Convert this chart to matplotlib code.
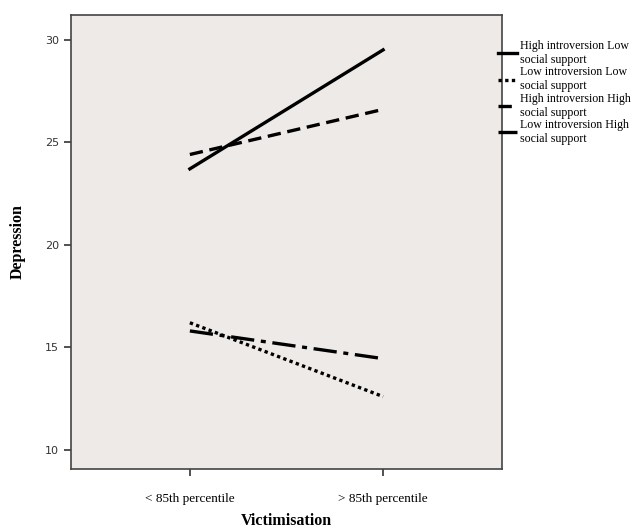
import matplotlib
matplotlib.use("Agg")
import matplotlib.pyplot as plt

categories = ["< 85th percentile", "> 85th percentile"]
series_names = ["High introversion Low\nsocial support",
                "Low introversion Low\nsocial support",
                "High introversion High\nsocial support",
                "Low introversion High\nsocial support"]
hi_intro_low_support = [23.7, 29.5]
lo_intro_low_support = [16.2, 12.6]
hi_intro_high_support = [24.4, 26.6]
lo_intro_high_support = [15.8, 14.45]
yticks = [10, 15, 20, 25, 30]

fig = plt.figure(figsize=(6.37, 5.32), dpi=100)
ax = fig.add_axes([0.1115, 0.1184, 0.6765, 0.8534])
ax.set_facecolor("#EEEAE7")

x = list(range(len(categories)))
styles = ["-", (0, (1, 1)), (0, (4, 2)), (0, (7, 2, 1.5, 2))]
data = [hi_intro_low_support, lo_intro_low_support, hi_intro_high_support, lo_intro_high_support]
for vals, ls, name in zip(data, styles, series_names):
    ax.plot(x, vals, color="black", linestyle=ls, linewidth=2.4, label=name)

ax.set_xlim(-0.615, 1.615)
ax.set_ylim(9.07, 31.2)
ax.set_xticks(x)
ax.set_xticklabels(categories, fontfamily="Liberation Serif", fontsize=9.5)
ax.set_yticks(yticks)
ax.set_yticklabels([str(v) for v in yticks], fontfamily="DejaVu Sans", fontsize=8, color="#333333")
ax.tick_params(axis="both", direction="out", length=5, width=1.2, color="#333333")
ax.tick_params(axis="x", pad=12)
for s in ax.spines.values():
    s.set_color("#444444")
    s.set_linewidth(1.2)

ax.set_xlabel("Victimisation", fontfamily="Liberation Serif", fontsize=11.5, fontweight="bold", labelpad=6)
ax.set_ylabel("Depression", fontfamily="Liberation Serif", fontsize=11.5, fontweight="bold")
ax.yaxis.set_label_coords(-0.105, 0.5)

leg = ax.legend(loc="upper left", bbox_to_anchor=(0.99, 0.945), frameon=False,
                prop={"family": "Liberation Serif", "size": 8.6},
                handlelength=1.6, handletextpad=0.25, labelspacing=0.05,
                borderaxespad=0, borderpad=0)

fig.savefig("out.png", dpi=100, facecolor="white")
